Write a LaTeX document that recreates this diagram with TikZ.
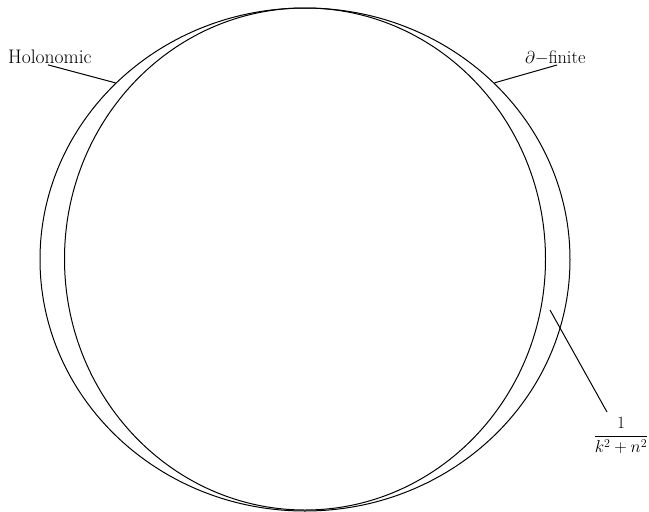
\documentclass[tikz,border=0pt]{standalone}
\usetikzlibrary{shapes.geometric}
\begin{document}
\begin{tikzpicture}[x=1pt,y=-1pt,
  ring/.style={draw, ellipse, inner sep=0pt, line width=1pt},
  lbl/.style={inner sep=0pt, font=\fontsize{19.6}{23}\selectfont},
  mlbl/.style={inner sep=0pt, font=\fontsize{18.3}{22}\selectfont},
  lead/.style={line width=1pt}]
\useasboundingbox (0,0) rectangle (649,512);
\node[ring, minimum width=530pt, minimum height=503pt] (outer) at (305,259.5) {};
\node[ring, minimum width=481pt, minimum height=502pt] (inner) at (305,259) {};
\node[lbl, anchor=base west] (hol) at (8,63.5) {Holonomic};
\node[mlbl, anchor=base west] (dfin) at (525,63.5) {$\partial-$finite};
\node[mlbl, anchor=base] (frac) at (621,440.6) {$\displaystyle\frac{1}{k^2+n^2}$};
\coordinate (lunept) at (550,310);
\coordinate (fracpt) at (607,412);
\path (hol.south) ++(-2,1) coordinate (holpt);
\draw[lead] (holpt) -- (outer.137);
\coordinate (dfinpt) at (557,65);
\draw[lead] (dfinpt) -- (outer.43.4);
\draw[lead] (lunept) -- (fracpt);
\end{tikzpicture}
\end{document}
